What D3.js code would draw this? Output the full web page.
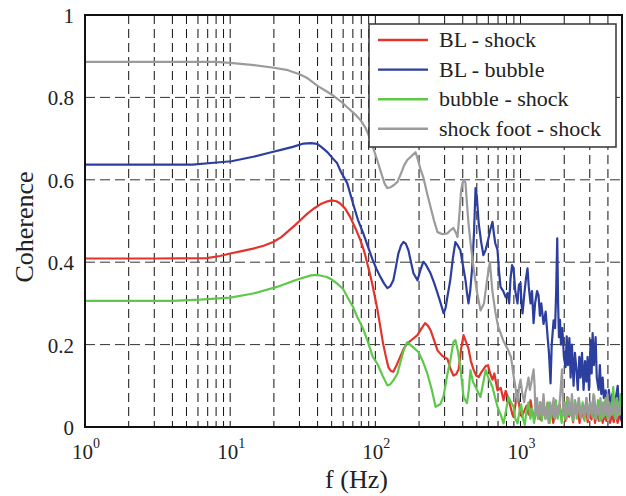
<!DOCTYPE html>
<html>
<head>
<meta charset="utf-8">
<script src="https://cdn.jsdelivr.net/npm/d3@7"></script>
<style>
  body { margin: 0; background: #fff; }
  svg { display: block; }
</style>
</head>
<body>
<div id="chart"></div>
<script>
// series: [frequency (Hz), coherence]
const seriesNames = ["BL - shock", "BL - bubble", "bubble - shock", "shock foot - shock"];
const seriesColors = ["#e3342b", "#2c3e9e", "#5ec84a", "#9b9b9b"];

const blShock = [[1,.409],[3,.409],[6.9,.410],[8.5,.415],[10,.421],[12,.427],[14.4,.433],[17,.440],[19.8,.449],[22.5,.461],[25,.475],[28,.490],[30.4,.502],[34,.518],[38,.531],[42,.541],[46,.547],[50,.550],[54,.548],[57,.543],[62,.530],[67,.510],[73,.482],[79,.453],[84,.425],[88,.397],[92,.370],[95,.349],[99,.318],[103,.288],[108,.245],[113,.203],[118,.172],[123,.145],[128,.136],[133,.134],[140,.150],[149,.172],[157,.190],[166,.203],[180,.213],[195,.223],[207,.238],[220,.252],[230,.246],[240,.235],[254,.210],[268,.186],[290,.172],[314,.165],[330,.140],[345,.125],[360,.128],[375,.140],[390,.190],[405,.223],[420,.208],[438,.190],[455,.160],[474,.140],[495,.125],[515,.121],[535,.132],[555,.140],[575,.148],[597,.150],[620,.128],[641,.115],[660,.130],[680,.105],[694,.089],[712,.092],[730,.095],[764,.065],[790,.088],[813,.075],[853,.049],[880,.030],[895,.024],[920,.052],[953,.089],[990,.040],[1020,.025],[1050,.035],[1100,.052],[1135,.030],[1172,.065],[1210,.035],[1250,.020],[1300,.045],[1340,.025],[1373,.018],[1420,.045],[1480,.025],[1535,.058],[1580,.020],[1630,.045],[1680,.010],[1740,.040],[1800,.030],[1860,.055],[1920,.020],[1980,.050],[2040,.015],[2100,.072],[2160,.025],[2230,.050],[2300,.012],[2380,.048],[2470,.040],[2550,.010],[2640,.045],[2730,.020],[2820,.055],[2900,.012],[2990,.040],[3080,.018],[3170,.050],[3260,.010],[3360,.035],[3460,.015],[3570,.045],[3680,.010],[3790,.030],[3900,.015],[4020,.040],[4140,.010],[4260,.030],[4390,.012],[4520,.035],[4660,.010],[4800,.028],[4950,.015],[5000,.020]];

const blBubble = [[1,.637],[5.5,.637],[8.1,.642],[10.2,.645],[14.4,.656],[19.8,.668],[22,.672],[27,.680],[32,.688],[36,.689],[39.8,.687],[43,.678],[46.5,.668],[50,.655],[54.6,.640],[58,.619],[64,.592],[70.5,.540],[76,.502],[82.6,.470],[89,.437],[96,.405],[102,.383],[108,.365],[115,.348],[121,.337],[127,.342],[133,.356],[138,.385],[144,.421],[150,.440],[156,.449],[162,.445],[169,.429],[176,.400],[183,.373],[195,.356],[204,.380],[214,.401],[222,.395],[230,.385],[240,.373],[254,.350],[268,.325],[282,.300],[295,.276],[305,.290],[315,.320],[328,.356],[342,.410],[356,.449],[370,.440],[385,.429],[400,.395],[418,.356],[428,.325],[438,.300],[450,.330],[465,.389],[478,.470],[490,.580],[500,.560],[515,.495],[535,.450],[555,.417],[575,.430],[597,.453],[620,.480],[641,.498],[655,.470],[670,.446],[694,.430],[710,.380],[728,.340],[760,.330],[790,.315],[813,.325],[835,.300],[853,.360],[875,.393],[895,.385],[920,.330],[953,.300],[975,.345],[1000,.350],[1015,.300],[1032,.276],[1060,.320],[1090,.360],[1117,.385],[1140,.340],[1172,.300],[1200,.330],[1230,.252],[1260,.300],[1300,.330],[1330,.320],[1360,.270],[1390,.300],[1440,.250],[1490,.280],[1535,.220],[1570,.180],[1610,.106],[1640,.200],[1690,.259],[1730,.240],[1760,.330],[1790,.458],[1815,.300],[1840,.218],[1870,.260],[1900,.200],[1940,.240],[1990,.170],[2042,.145],[2080,.220],[2120,.150],[2170,.216],[2213,.120],[2260,.200],[2320,.100],[2370,.180],[2420,.145],[2480,.090],[2540,.170],[2592,.120],[2650,.180],[2718,.090],[2780,.160],[2840,.110],[2897,.170],[2960,.090],[3040,.211],[3090,.130],[3138,.228],[3200,.150],[3290,.218],[3350,.120],[3452,.090],[3520,.150],[3600,.080],[3680,.120],[3750,.070],[3857,.089],[3950,.050],[4060,.090],[4178,.050],[4280,.080],[4400,.030],[4530,.070],[4670,.100],[4780,.040],[4898,.025],[5000,.015]];

const bubbleShock = [[1,.306],[4,.306],[6.2,.309],[10,.314],[14.4,.324],[21,.340],[29,.358],[36,.368],[40,.369],[46.5,.364],[50,.358],[54.6,.348],[60,.335],[64,.316],[70,.292],[75,.267],[82,.240],[88,.211],[96,.170],[103,.154],[112,.125],[121,.101],[127,.104],[133,.113],[142,.130],[150,.162],[158,.190],[166,.206],[180,.195],[198,.182],[212,.160],[228,.130],[245,.090],[260,.049],[280,.055],[295,.075],[314,.130],[328,.160],[345,.206],[356,.211],[370,.185],[385,.146],[405,.073],[428,.058],[440,.090],[452,.138],[470,.110],[490,.097],[530,.073],[555,.110],[575,.138],[600,.120],[641,.097],[670,.070],[694,.049],[730,.030],[764,.009],[795,.040],[825,.073],[860,.060],[895,.049],[920,.020],[953,.009],[980,.035],[1010,.055],[1040,.020],[1070,.005],[1100,.040],[1135,.060],[1170,.020],[1200,.045],[1240,.010],[1280,.050],[1320,.020],[1360,.060],[1400,.015],[1440,.045],[1490,.020],[1540,.060],[1590,.010],[1640,.050],[1690,.025],[1750,.065],[1800,.020],[1860,.050],[1920,.010],[1980,.060],[2040,.020],[2100,.070],[2160,.030],[2230,.055],[2300,.015],[2370,.065],[2440,.020],[2520,.070],[2600,.025],[2680,.060],[2760,.015],[2850,.070],[2940,.020],[3030,.060],[3120,.025],[3220,.075],[3320,.020],[3420,.065],[3520,.015],[3630,.060],[3740,.025],[3850,.070],[3970,.020],[4090,.060],[4220,.030],[4350,.097],[4480,.020],[4620,.070],[4760,.030],[4900,.080],[5000,.040]];

const shockFootShock = [[1,.886],[8,.886],[10,.884],[14,.879],[20,.872],[25,.866],[30,.856],[34,.847],[40,.828],[46,.815],[51,.805],[58,.790],[64,.776],[72,.760],[79,.745],[85,.728],[90,.708],[96,.680],[103,.648],[110,.615],[116,.590],[121,.580],[128,.582],[135,.588],[142,.595],[150,.615],[158,.635],[166,.648],[178,.658],[189,.667],[196,.650],[205,.625],[214,.606],[228,.565],[240,.534],[254,.500],[268,.473],[290,.468],[314,.470],[330,.478],[345,.483],[360,.470],[368,.461],[380,.520],[390,.575],[398,.592],[410,.600],[418,.592],[428,.540],[438,.495],[455,.440],[474,.388],[500,.330],[530,.283],[560,.300],[590,.360],[615,.400],[640,.330],[670,.280],[700,.245],[760,.210],[813,.190],[860,.170],[890,.130],[920,.100],[953,.060],[980,.100],[1000,.115],[1030,.080],[1060,.060],[1082,.085],[1110,.100],[1135,.120],[1160,.090],[1190,.110],[1230,.140],[1250,.100],[1268,.030],[1300,.070],[1330,.020],[1370,.060],[1400,.030],[1440,.080],[1480,.020],[1520,.050],[1560,.010],[1600,.060],[1640,.030],[1690,.070],[1730,.020],[1780,.050],[1830,.030],[1880,.080],[1930,.140],[1970,.030],[2020,.060],[2080,.020],[2140,.070],[2200,.030],[2260,.080],[2320,.020],[2390,.060],[2450,.030],[2520,.070],[2600,.020],[2680,.050],[2760,.030],[2840,.070],[2920,.020],[3000,.060],[3090,.030],[3180,.080],[3270,.020],[3360,.050],[3450,.030],[3550,.070],[3650,.020],[3750,.060],[3860,.030],[3970,.080],[4080,.020],[4200,.050],[4320,.030],[4440,.070],[4570,.020],[4700,.060],[4840,.030],[4980,.050]];

const seriesData = [blShock, blBubble, bubbleShock, shockFootShock];
const yTicks = [0, 0.2, 0.4, 0.6, 0.8, 1];
const xDecades = [0, 1, 2, 3];
const xDomain = [1, 5000];

const width = 626, height = 496;
const margin = {top: 15, right: 4, bottom: 69, left: 85};
const serif = "'Liberation Serif', 'Times New Roman', monospace";

const svg = d3.select("#chart").append("svg")
    .attr("width", width)
    .attr("height", height)
    .attr("font-family", serif);

const x = d3.scaleLog()
    .domain(xDomain)
    .range([margin.left, width - margin.right]);

const y = d3.scaleLinear()
    .domain([0, 1])
    .range([height - margin.bottom, margin.top]);

// grid lines at every minor tick of the log axis
let gridX = x.ticks().filter(d => d > xDomain[0] && d < xDomain[1]);

svg.append("g")
  .selectAll("line")
  .data(gridX)
  .enter().append("line")
    .attr("x1", d => x(d)).attr("x2", d => x(d))
    .attr("y1", margin.top).attr("y2", height - margin.bottom)
    .attr("stroke", "#111")
    .attr("stroke-width", 1)
    .attr("stroke-dasharray", "9,5");

svg.append("g")
  .selectAll("line")
  .data(yTicks.slice(1, -1))
  .enter().append("line")
    .attr("x1", margin.left).attr("x2", width - margin.right)
    .attr("y1", d => y(d)).attr("y2", d => y(d))
    .attr("stroke", "#333")
    .attr("stroke-width", 1)
    .attr("stroke-dasharray", "10,5");

// curves
let line = d3.line()
    .x(d => x(d[0]))
    .y(d => y(d[1]));

svg.append("g")
  .selectAll("path")
  .data(seriesData)
  .enter().append("path")
    .attr("d", line)
    .attr("fill", "none")
    .attr("stroke", (d, i) => seriesColors[i])
    .attr("stroke-width", 2.2)
    .attr("stroke-linejoin", "round");

// frame
svg.append("rect")
    .attr("x", margin.left)
    .attr("y", margin.top)
    .attr("width", width - margin.right - margin.left)
    .attr("height", height - margin.bottom - margin.top)
    .attr("fill", "none")
    .attr("stroke", "#111")
    .attr("stroke-width", 2);

// y tick labels
svg.append("g")
  .selectAll("text")
  .data(yTicks)
  .enter().append("text")
    .attr("x", margin.left - 11)
    .attr("y", d => y(d) + 8)
    .attr("text-anchor", "end")
    .attr("font-family", serif)
    .style("font-size", "21px")
    .attr("fill", "#222")
    .text(d => d3.format("~g")(d));

// x tick labels 10^n
let xLabels = svg.append("g")
  .selectAll("text")
  .data(xDecades)
  .enter().append("text")
    .attr("x", d => x(Math.pow(10, d)) + 1)
    .attr("y", 459)
    .attr("text-anchor", "middle")
    .attr("font-family", serif)
    .style("font-size", "21px")
    .attr("fill", "#222");
xLabels.append("tspan").text("10");
xLabels.append("tspan")
    .attr("dy", -11)
    .style("font-size", "14px")
    .text(d => d);

// axis titles
svg.append("text")
    .attr("x", (margin.left + width - margin.right) / 2 + 3)
    .attr("y", 488)
    .attr("text-anchor", "middle")
    .attr("font-family", serif)
    .style("font-size", "26px")
    .attr("fill", "#222")
    .text("f (Hz)");

svg.append("text")
    .attr("transform", `translate(33, ${(margin.top + height - margin.bottom) / 2 + 6}) rotate(-90)`)
    .attr("text-anchor", "middle")
    .attr("font-family", serif)
    .style("font-size", "26px")
    .attr("fill", "#222")
    .text("Coherence");

// legend
let legend = svg.append("g").attr("transform", "translate(369, 24)");

legend.append("rect")
    .attr("width", 247)
    .attr("height", 123)
    .attr("fill", "#fff")
    .attr("stroke", "#333")
    .attr("stroke-width", 1.5);

let entries = legend.selectAll("g")
    .data(seriesNames)
    .enter().append("g")
    .attr("transform", (d, i) => `translate(0, ${16 + i * 29.6})`);

entries.append("line")
    .attr("x1", 9).attr("x2", 59)
    .attr("stroke", (d, i) => seriesColors[i])
    .attr("stroke-width", 2.4);

entries.append("text")
    .attr("x", 70)
    .attr("y", 7)
    .attr("font-family", serif)
    .style("font-size", "22px")
    .attr("fill", "#222")
    .text(d => d);
</script>
</body>
</html>
